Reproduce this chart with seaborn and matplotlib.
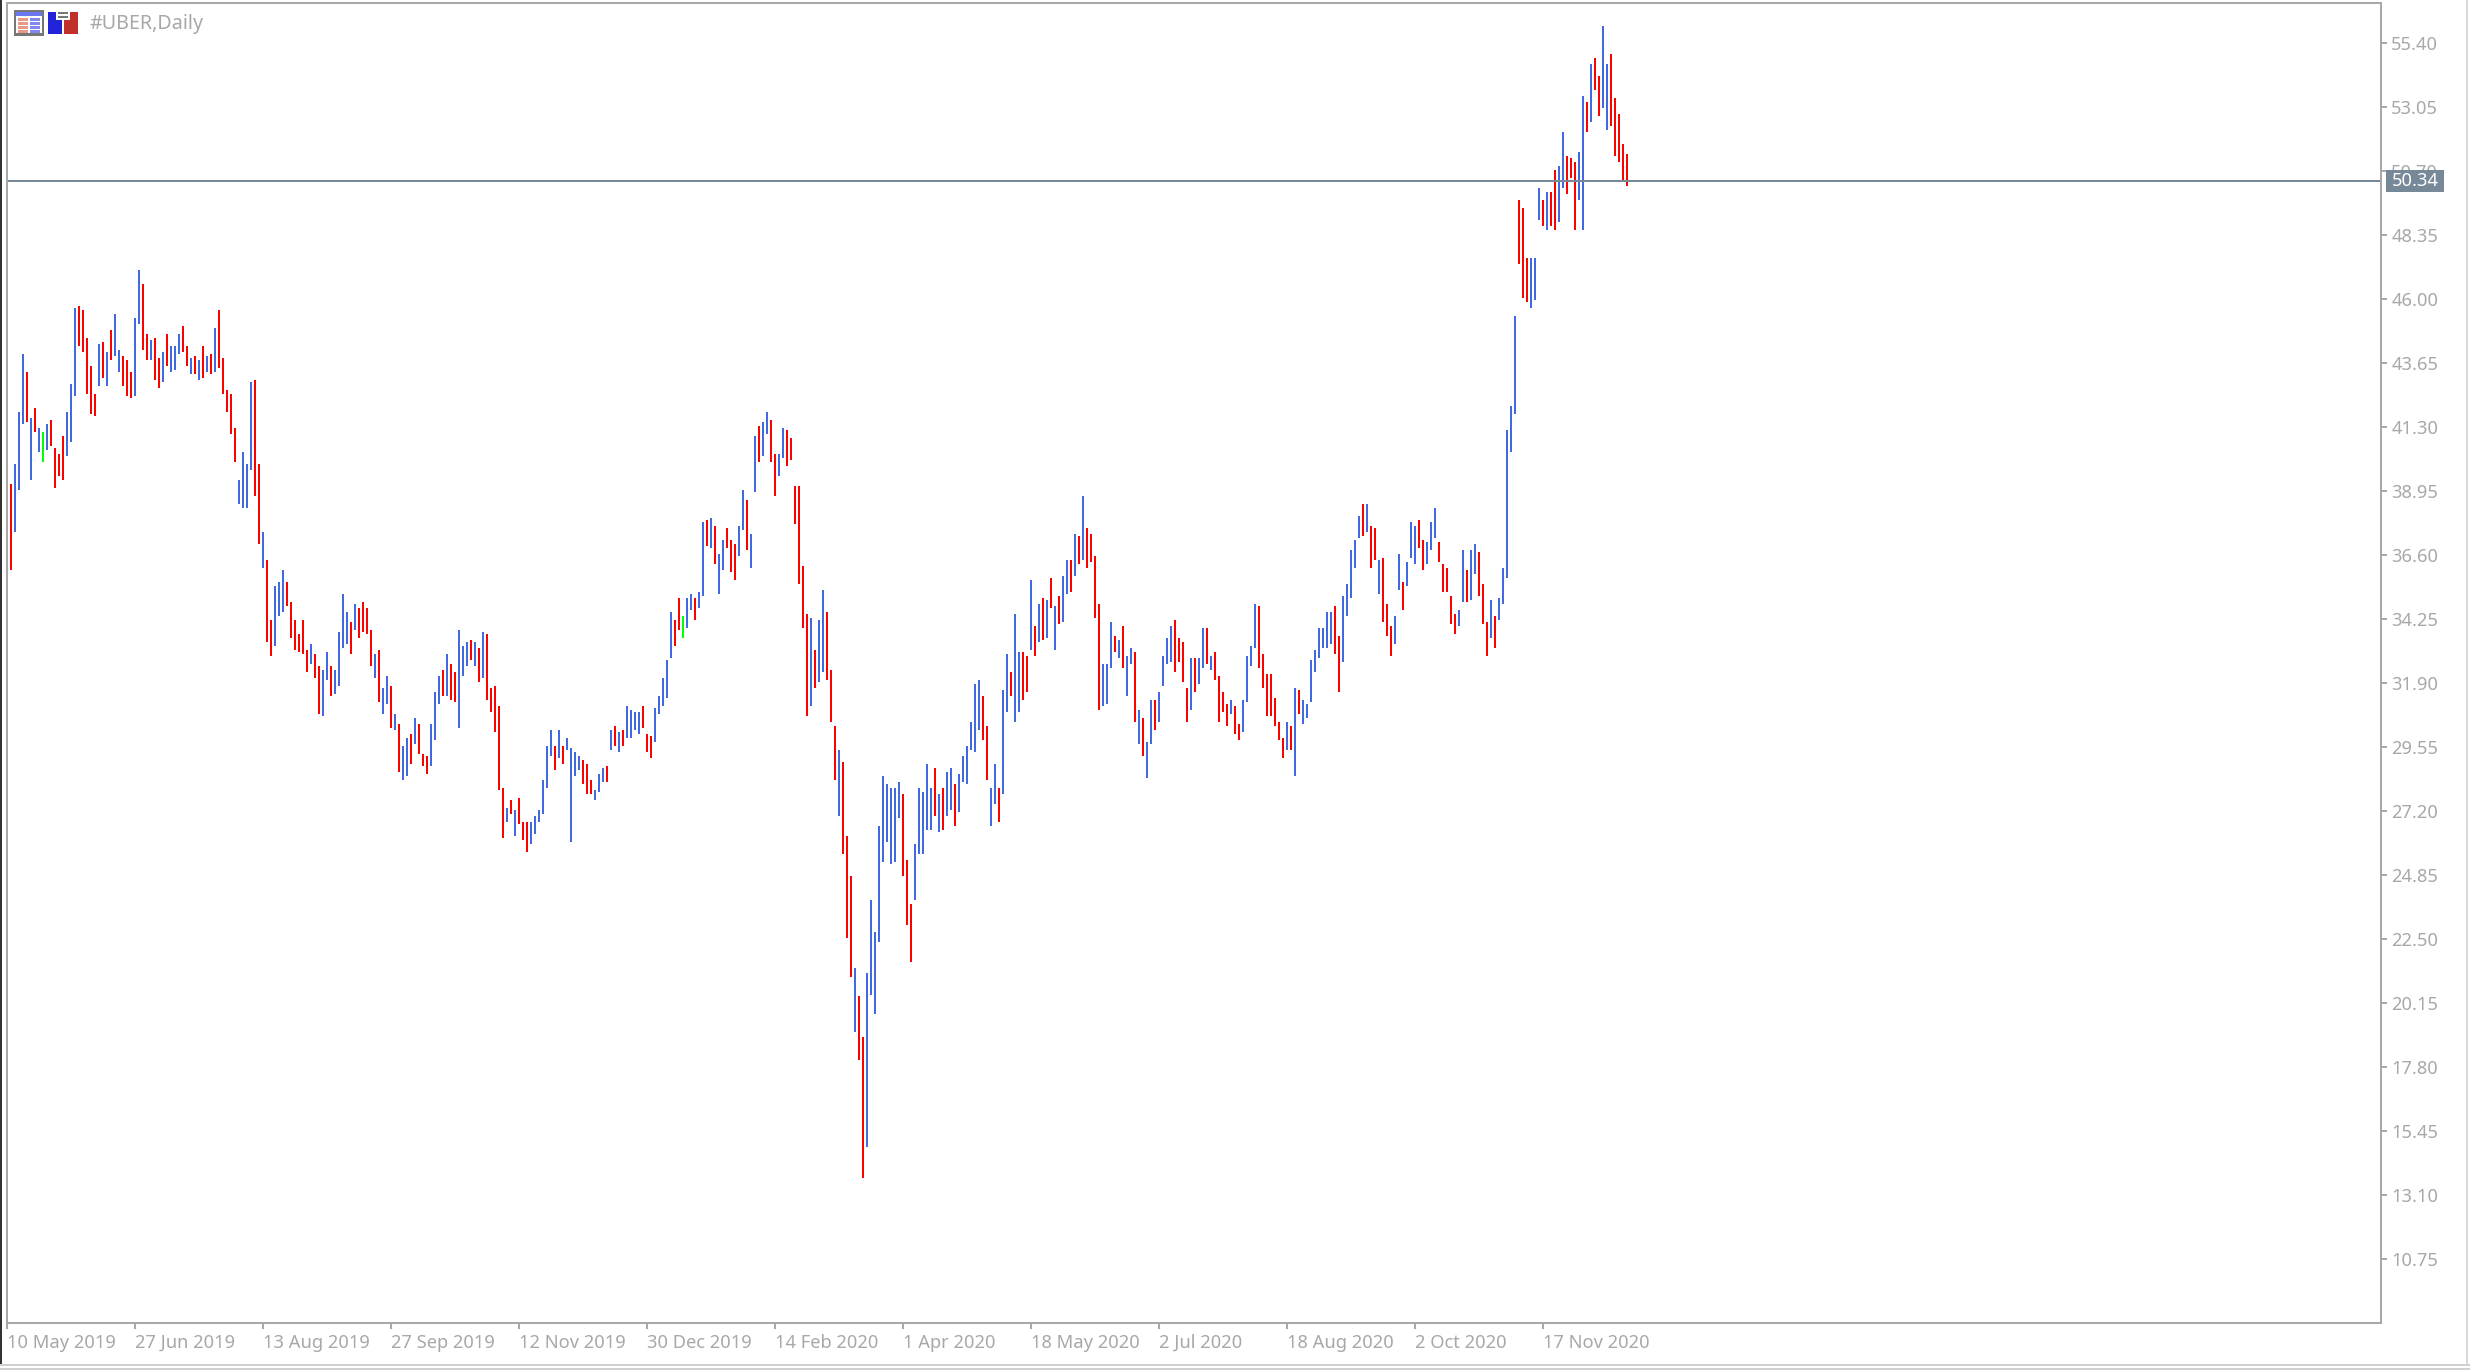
import matplotlib
matplotlib.use("Agg")
import matplotlib.pyplot as plt
import pandas as pd
import seaborn as sns
from matplotlib.patches import Rectangle

# high / low of each daily bar
highs = [
    39.21, 39.94, 41.85, 43.98, 43.32, 41.63, 42.00, 41.26, 41.12, 41.41,
    41.56, 40.53, 40.31, 40.97, 41.85, 42.88, 45.67, 45.74, 45.60, 44.57,
    43.54, 42.51, 44.35, 44.42, 44.05, 44.86, 45.45, 44.13, 43.91, 43.76,
    43.32, 45.30, 47.06, 46.55, 44.71, 44.49, 44.57, 43.83, 44.05, 44.71,
    44.27, 44.27, 44.71, 45.01, 44.27, 43.83, 43.91, 43.76, 44.27, 43.91,
    43.98, 44.94, 45.60, 43.83, 42.66, 42.51, 41.26, 39.35, 40.38, 39.94,
    42.95, 43.03, 39.94, 37.44, 36.42, 34.21, 35.46, 35.61, 36.05, 35.61,
    34.87, 34.21, 33.70, 34.21, 33.11, 33.33, 32.96, 32.52, 32.38, 33.04,
    32.52, 32.38, 33.77, 35.17, 34.51, 34.14, 34.80, 34.65, 34.87, 34.65,
    33.85, 32.96, 33.11, 31.72, 32.16, 31.79, 30.76, 30.39, 29.59, 29.88,
    30.03, 30.61, 30.39, 29.29, 29.22, 30.39, 31.57, 32.16, 32.38, 32.96,
    32.60, 32.30, 33.85, 33.26, 33.41, 33.48, 33.41, 33.18, 33.77, 33.70,
    31.72, 31.79, 31.06, 28.04, 27.31, 27.60, 27.24, 27.68, 26.80, 26.80,
    26.80, 27.02, 27.24, 28.34, 29.59, 30.17, 29.59, 30.17, 29.59, 29.88,
    29.51, 29.37, 29.22, 29.07, 28.93, 28.34, 27.97, 28.56, 28.78, 28.85,
    30.17, 30.32, 30.10, 30.17, 31.06, 30.91, 30.83, 30.83, 31.06, 30.03,
    29.95, 30.98, 31.42, 32.08, 32.74, 34.51, 34.21, 35.02, 34.36, 35.02,
    35.17, 35.02, 35.24, 37.81, 37.89, 37.96, 37.66, 36.64, 37.15, 37.59,
    37.15, 37.00, 37.66, 38.99, 38.62, 37.37, 40.97, 41.34, 41.48, 41.85,
    41.56, 40.31, 40.31, 41.26, 41.19, 40.90, 39.13, 39.13, 36.20, 34.43,
    34.29, 33.11, 34.21, 35.31, 34.51, 32.38, 30.31, 29.44, 29.00, 26.27,
    24.81, 21.43, 20.39, 18.92, 21.27, 23.92, 22.74, 26.64, 28.48, 28.19,
    28.03, 28.03, 28.26, 27.82, 25.39, 23.77, 25.98, 28.03, 27.90, 28.92,
    28.03, 28.77, 27.82, 28.03, 28.63, 28.77, 28.19, 28.55, 29.21, 29.58,
    30.47, 31.86, 32.01, 31.42, 30.31, 28.03, 28.92, 28.03, 31.64, 32.96,
    32.30, 34.43, 33.04, 33.04, 32.89, 35.68, 33.99, 34.80, 35.02, 34.95,
    35.75, 34.73, 35.09, 35.83, 36.42, 36.42, 37.37, 37.30, 38.77, 37.59,
    37.37, 36.56, 34.80, 32.60, 32.60, 34.14, 33.63, 33.48, 33.99, 32.89,
    33.18, 33.04, 30.91, 30.61, 29.73, 31.28, 31.28, 31.57, 32.89, 33.55,
    33.99, 34.21, 33.55, 33.40, 31.72, 32.82, 32.82, 32.82, 33.92, 33.92,
    32.89, 33.04, 32.16, 31.57, 31.13, 31.28, 31.05, 30.39, 31.28, 32.89,
    33.26, 34.80, 34.73, 32.96, 32.23, 32.23, 31.35, 30.47, 29.88, 30.47,
    30.32, 31.72, 31.64, 31.28, 31.13, 32.74, 33.11, 33.92, 33.92, 34.51,
    34.51, 34.73, 33.63, 35.09, 35.53, 36.78, 37.15, 38.03, 38.47, 38.47,
    37.66, 37.59, 36.42, 36.49, 34.80, 33.99, 34.36, 36.64, 35.61, 36.34,
    37.81, 37.66, 37.88, 37.15, 37.08, 37.81, 38.33, 37.08, 36.27, 36.12,
    35.09, 34.43, 34.58, 36.78, 36.05, 36.78, 37.00, 36.71, 35.53, 34.14,
    34.95, 34.36, 35.02, 36.12, 41.19, 42.07, 45.38, 49.63, 49.34, 47.51,
    47.51, 47.51, 50.08, 49.63, 49.93, 49.93, 50.74, 50.88, 52.13, 51.25,
    51.18, 51.03, 51.40, 53.45, 53.23, 54.63, 54.85, 54.19, 56.02, 54.63,
    55.00, 53.38, 52.79, 51.69, 51.32,
]
lows = [
    36.05, 37.44, 38.99, 41.41, 41.48, 39.35, 41.12, 40.38, 40.01, 40.45,
    40.60, 39.06, 39.50, 39.35, 40.23, 40.75, 42.44, 44.27, 44.05, 42.51,
    41.78, 41.70, 42.81, 43.10, 42.81, 43.76, 43.91, 43.32, 42.81, 42.44,
    42.36, 42.44, 45.08, 44.13, 43.76, 43.76, 43.03, 42.73, 42.95, 43.54,
    43.32, 43.39, 43.98, 44.05, 43.54, 43.25, 43.25, 43.03, 43.10, 43.32,
    43.25, 43.32, 43.47, 42.51, 41.85, 41.04, 40.01, 38.47, 38.33, 38.33,
    39.72, 38.77, 37.00, 36.12, 33.41, 32.89, 33.26, 34.36, 34.51, 34.73,
    33.55, 33.11, 33.04, 32.96, 32.30, 32.60, 32.08, 30.76, 30.69, 32.01,
    31.42, 31.50, 31.79, 33.18, 33.33, 32.96, 33.85, 33.55, 33.77, 33.70,
    32.52, 32.08, 31.20, 30.76, 31.13, 30.25, 30.17, 28.63, 28.34, 28.49,
    28.93, 29.66, 29.29, 28.85, 28.56, 28.85, 29.81, 31.13, 31.42, 31.42,
    31.28, 31.20, 30.25, 32.16, 32.52, 32.74, 32.52, 31.94, 32.08, 31.28,
    30.84, 30.10, 27.97, 26.21, 26.80, 27.09, 26.28, 26.72, 26.13, 25.69,
    25.99, 26.36, 26.80, 27.09, 28.04, 29.22, 28.70, 29.15, 28.93, 29.44,
    26.06, 28.48, 28.70, 28.19, 27.82, 27.82, 27.60, 27.90, 28.26, 28.26,
    29.44, 29.59, 29.37, 29.59, 29.88, 29.88, 30.17, 30.03, 30.25, 29.37,
    29.15, 29.73, 30.76, 31.06, 31.35, 32.82, 33.26, 33.85, 33.55, 33.92,
    34.58, 34.21, 34.65, 35.09, 36.93, 36.86, 36.27, 35.17, 36.05, 36.86,
    35.98, 35.68, 36.56, 37.52, 36.78, 36.12, 38.91, 40.01, 40.23, 41.04,
    40.01, 38.77, 39.50, 40.16, 39.87, 40.09, 37.74, 35.53, 33.92, 30.69,
    31.06, 31.72, 31.94, 32.30, 32.01, 30.47, 28.34, 27.01, 25.62, 22.53,
    21.12, 19.07, 18.05, 13.72, 14.88, 20.46, 19.73, 22.38, 25.31, 26.06,
    25.25, 25.31, 26.93, 24.81, 23.03, 21.64, 23.92, 25.62, 25.62, 26.49,
    26.49, 27.01, 26.43, 26.49, 27.01, 27.22, 26.64, 27.16, 28.26, 28.19,
    29.44, 29.36, 30.17, 29.81, 28.34, 26.64, 27.45, 26.79, 27.82, 30.83,
    31.42, 30.47, 30.83, 31.28, 31.57, 33.11, 32.89, 33.40, 33.48, 33.55,
    34.65, 33.11, 34.07, 34.14, 35.17, 35.24, 35.83, 36.27, 36.42, 36.12,
    36.34, 34.29, 30.91, 31.05, 31.13, 32.45, 33.04, 32.82, 32.45, 31.42,
    32.60, 30.47, 29.66, 29.22, 28.41, 29.66, 30.17, 30.47, 31.79, 32.60,
    32.67, 32.30, 32.67, 31.94, 30.47, 30.91, 31.57, 31.86, 32.45, 32.60,
    32.38, 32.01, 30.47, 30.83, 30.32, 30.76, 30.03, 29.81, 30.10, 31.20,
    32.52, 33.18, 32.45, 31.72, 30.69, 30.69, 30.32, 29.81, 29.15, 29.44,
    29.44, 28.48, 30.76, 30.39, 30.61, 31.20, 32.30, 32.82, 33.18, 33.18,
    33.33, 32.96, 31.57, 32.67, 34.36, 35.02, 36.12, 37.22, 37.30, 37.44,
    36.12, 36.42, 35.17, 34.14, 33.63, 32.89, 33.33, 35.31, 34.58, 35.46,
    36.49, 36.27, 36.86, 36.05, 36.27, 36.78, 37.22, 36.34, 35.24, 35.24,
    34.07, 33.70, 33.99, 34.87, 34.87, 34.95, 35.90, 35.09, 34.07, 32.89,
    33.55, 33.18, 34.21, 34.80, 35.75, 40.38, 41.78, 47.29, 46.04, 45.89,
    45.67, 45.96, 48.90, 48.68, 48.53, 48.68, 48.53, 48.83, 50.08, 49.86,
    50.44, 48.53, 49.63, 48.53, 52.13, 52.50, 53.67, 52.72, 53.01, 52.21,
    52.35, 51.25, 51.03, 50.30, 50.15,
]
# b = up day, r = down day, g = open equals close
directions = (
    "rbbbrbrbgb" "rrrrbbbrrr" "rrbrbrbbrr" "rbbrrbrrbr" "bbbrrbrbrb"
    "rbrrrrrbbb" "brrbrrbbbr" "rrrrrbrrbb" "rbbbbrbrrr" "rbrbbrbrbb"
    "rbrrrbbbrb" "rrbbbrbrbr" "rrrrbrbrrr" "bbbbbbrbrb" "bbbrrrbbbr"
    "brbrbbbbrr" "rbbbbbrrgb" "brbbrbrbbr" "rrbbrbbrbb" "rrbbrrrrrr"
    "brbbrrrbrr" "rbrrbbbbbb" "bbbrrrbbbb" "brbrbbrbbb" "bbbrrbbrbb"
    "rbbrrbrbrb" "rbrbbrbrbr" "rrrbbbrbrb" "brbrbbrbbb" "brrrrbrbbr"
    "brrrrbrrbb" "bbrrrrrrrb" "rbrbbbbbbb" "brrbbbbbrb" "rrbrrrbbrb"
    "bbrrbbbrrr" "rrbbrbbrrr" "brbbbbbrrr" "bbbrbrrbbr" "rrbbrbrrbb"
    "rrrrr"
)
bar_colors = {"b": "#4169E1", "r": "#FF0000", "g": "#00FF00"}

price_ticks = [55.40, 53.05, 50.70, 48.35, 46.00, 43.65, 41.30, 38.95, 36.60, 34.25,
               31.90, 29.55, 27.20, 24.85, 22.50, 20.15, 17.80, 15.45, 13.10, 10.75]
date_labels = ["10 May 2019", "27 Jun 2019", "13 Aug 2019", "27 Sep 2019", "12 Nov 2019",
               "30 Dec 2019", "14 Feb 2020", "1 Apr 2020", "18 May 2020", "2 Jul 2020",
               "18 Aug 2020", "2 Oct 2020", "17 Nov 2020"]
last_price = 50.34

W, H = 2470, 1370
GREY = "#A8A8A8"
SLATE = "#778899"

sns.set_style("white")
plt.rcParams["font.family"] = ["Noto Sans", "DejaVu Sans"]

fig = plt.figure(figsize=(W / 100, H / 100), dpi=100, facecolor="white")


def box(x0, y0, x1, y1, color):
    # rectangle on the figure, given in image pixels
    fig.add_artist(Rectangle((x0 / W, 1 - y1 / H), (x1 - x0) / W, (y1 - y0) / H,
                             transform=fig.transFigure, facecolor=color,
                             edgecolor="none", antialiased=False))


ax = fig.add_axes([7 / W, 1 - 1323 / H, (2381 - 7) / W, (1323 - 3) / H])

rows = []
for i, d in enumerate(directions):
    rows.append({"bar": i, "price": highs[i], "dir": d})
    rows.append({"bar": i, "price": lows[i], "dir": d})
df = pd.DataFrame(rows)

sns.lineplot(data=df, x="bar", y="price", hue="dir", units="bar", estimator=None,
             palette=bar_colors, linewidth=1.44, legend=False, ax=ax,
             solid_capstyle="butt", antialiased=False)

ax.axhline(last_price, color=SLATE, linewidth=1.44, antialiased=False)

ax.set_xlim(-1, 592.5)
ax.set_ylim(8.40, 56.87)
ax.set_xlabel("")
ax.set_ylabel("")

ax.yaxis.tick_right()
ax.set_yticks(price_ticks)
ax.set_yticklabels([f"{p:.2f}" for p in price_ticks], ha="left")
ax.set_xticks([-1 + 32 * k for k in range(len(date_labels))])
ax.set_xticklabels(date_labels, ha="left")
ax.tick_params(axis="y", length=4.3, width=1.44, color=GREY, labelcolor=GREY,
               labelsize=13.2, pad=3, right=True, left=False)
ax.tick_params(axis="x", length=4.3, width=1.44, color=GREY, labelcolor=GREY,
               labelsize=13.2, pad=3.5, bottom=True)
for spine in ax.spines.values():
    spine.set_color(GREY)
    spine.set_linewidth(1.44)

fig.text(90 / W, 1 - 24 / H, "#UBER,Daily", color=GREY, fontsize=14.2, va="center", ha="left")

# last price tag on the scale
box(2386, 170, 2444, 192, SLATE)
fig.text(2415 / W, 1 - 181 / H, f"{last_price:.2f}", color="white", fontsize=13.2,
         va="center", ha="center")

# window frame
box(0, 0, 2, 1364, "#333333")
box(2466, 0, 2468, 1364, "#D8D8D8")
box(0, 1364, W, 1366, "#D0D0D0")
box(0, 1368, W, H, "#D0D0D0")

# little icons top left
box(14, 10, 44, 36, "#777777")
box(16, 12, 42, 16, "#6A78F0")
box(16, 16, 42, 33, "white")
for y in (18, 22, 26, 30):
    box(18, y, 28, y + 3, "#E89888")
    box(30, y, 40, y + 3, "#8088F0")
box(48, 12, 62, 34, "#2222D8")
box(64, 12, 78, 34, "#C03028")
box(56, 11, 70, 20, "white")
box(58, 12, 68, 14, "#777777")
box(58, 16, 68, 18, "#777777")

fig.savefig("out.png", dpi=100)
